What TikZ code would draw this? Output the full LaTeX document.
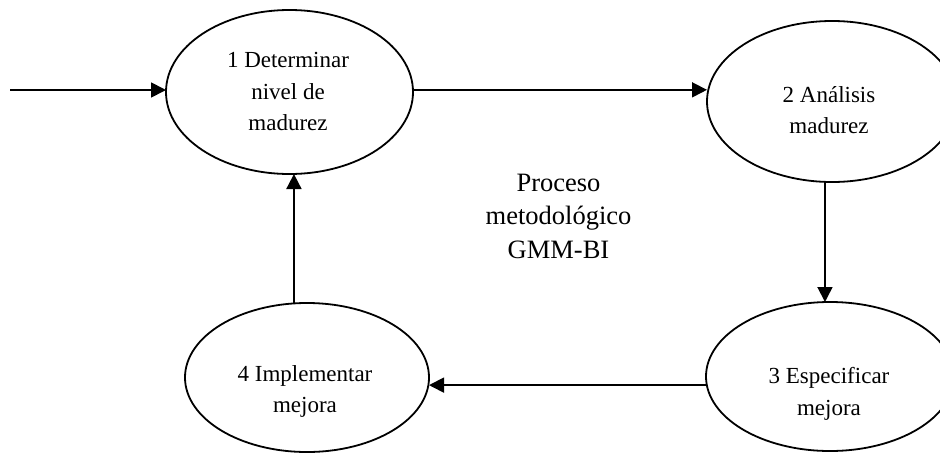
\documentclass[tikz,border=0pt]{standalone}
\usepackage{fontspec}
\setmainfont{Liberation Serif}
\usetikzlibrary{shapes.geometric,arrows.meta}
\begin{document}
\begin{tikzpicture}[x=1pt,y=-1pt,
  proc/.style={ellipse, draw, line width=1.8pt, inner sep=0pt, outer sep=0pt},
  lbl/.style={align=center, inner sep=0pt, anchor=north, font=\fontsize{23}{31.5}\selectfont},
  midlbl/.style={align=center, inner sep=0pt, anchor=north, font=\fontsize{26.5}{33.5}\selectfont},
  flow/.style={line width=1.8pt, -{Triangle[length=15pt,width=15pt]}}]
\clip (0,0) rectangle (940,453);
% ellipses
\node[proc, minimum width=247pt, minimum height=164pt] (e1) at (289.5,92) {};
\node[proc, minimum width=250pt, minimum height=161pt] (e2) at (832,101.5) {};
\node[proc, minimum width=248pt, minimum height=149pt] (e3) at (830,376.5) {};
\node[proc, minimum width=244pt, minimum height=149pt] (e4) at (307,377.5) {};
% texts
\node[lbl] (t1) at (288,52.3) {1 Determinar\\nivel de\\madurez};
\node[lbl] (t2) at (829,86.3) {2 Análisis\\madurez};
\node[lbl] (t3) at (829,367.3) {3 Especificar\\mejora};
\node[lbl] (t4) at (305,365.3) {4 Implementar\\mejora};
\node[midlbl] (tm) at (558.5,173.5) {Proceso\\metodológico\\GMM-BI};
% connectors
\coordinate (in) at (10,90);
\draw[flow] (in) -- (in -| e1.west);
\draw[flow] (e1.1) -- (e1.1 -| e2.west);
\draw[flow] (e2.265) -- (e2.265 |- e3.north);
\draw[flow] (e3.184.4) -- (e3.184.4 -| e4.east);
\draw[flow] (e4.100) -- (e4.100 |- e1.south);
\end{tikzpicture}
\end{document}
